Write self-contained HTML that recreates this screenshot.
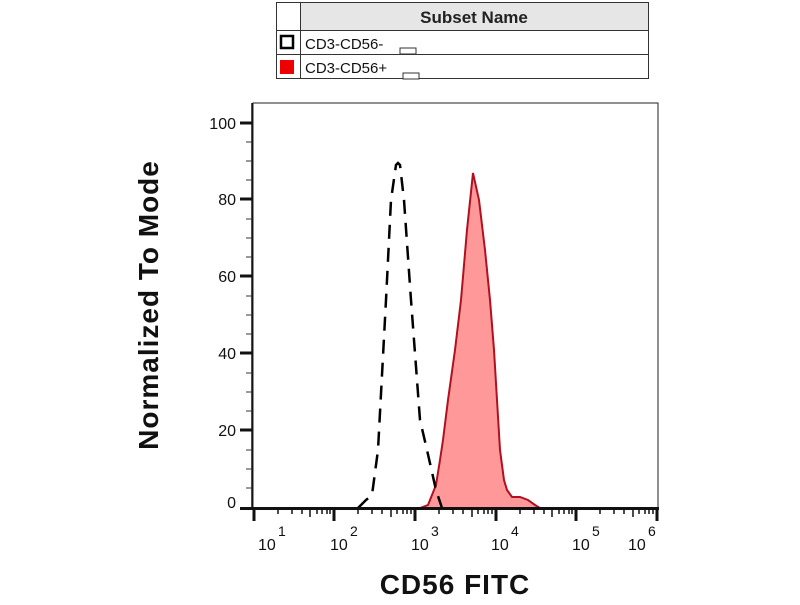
<!DOCTYPE html>
<html><head><meta charset="utf-8"><style>
body{margin:0;background:#fff;width:800px;height:600px;overflow:hidden;font-family:"Liberation Sans",sans-serif}
</style></head><body>
<svg width="800" height="600" xmlns="http://www.w3.org/2000/svg" font-family="Liberation Sans, sans-serif">
<rect x="276.5" y="2.5" width="372" height="76" fill="#fff" stroke="#333"/>
<rect x="301" y="3" width="347" height="27" fill="#e6e6e6"/>
<line x1="300.5" y1="2" x2="300.5" y2="79" stroke="#333"/>
<line x1="276" y1="30.5" x2="649" y2="30.5" stroke="#333"/>
<line x1="276" y1="54.5" x2="649" y2="54.5" stroke="#333"/>
<text x="474" y="23" font-size="17" font-weight="bold" text-anchor="middle" fill="#222">Subset Name</text>
<rect x="281" y="36" width="12" height="12" fill="#fff" stroke="#000" stroke-width="2.5"/>
<rect x="280" y="60" width="14" height="14" fill="#e00"/>
<text x="305" y="49" font-size="15" fill="#111">CD3-CD56-</text>
<rect x="400" y="48" width="16" height="6" fill="#fff" stroke="#333" stroke-width="1"/>
<text x="305" y="73" font-size="15" fill="#111">CD3-CD56+</text>
<rect x="403" y="73" width="16" height="6" fill="#fff" stroke="#333" stroke-width="1"/>
<rect x="253" y="103" width="405" height="405" fill="none" stroke="#222" stroke-width="1"/>
<path d="M255,508 L420,508 L428,505 L436,485 L440,460 L443,440 L448,400 L455,350 L461,300 L467,230 L473,173 L479,200 L485,250 L490,300 L494,350 L497,400 L500,450 L504,480 L507,490 L512,497 L520,497 L528,500 L535,505 L540,508 L656,508" fill="#f99" stroke="#b01020" stroke-width="2"/>
<path d="M358,508 L366,500 L372,495 L378,450 L386,300 L391,200 L396,165 L398,163 L400,165 L404,200 L411,300 L420,420 L427,450 L436,490 L442,508" fill="none" stroke="#000" stroke-width="2.5" stroke-dasharray="14,9"/>
<line x1="252" y1="103" x2="252" y2="510" stroke="#111" stroke-width="1.5"/>
<line x1="240" y1="508.5" x2="659" y2="508.5" stroke="#111" stroke-width="3"/>
<g stroke="#111" stroke-width="3">
<line x1="240" y1="123" x2="252" y2="123"/><line x1="240" y1="199" x2="252" y2="199"/>
<line x1="240" y1="276" x2="252" y2="276"/><line x1="240" y1="353" x2="252" y2="353"/>
<line x1="240" y1="430" x2="252" y2="430"/>
</g>
<g stroke="#333" stroke-width="1">
<line x1="246" y1="161" x2="252" y2="161"/><line x1="246" y1="238" x2="252" y2="238"/>
<line x1="246" y1="315" x2="252" y2="315"/><line x1="246" y1="392" x2="252" y2="392"/>
<line x1="246" y1="469" x2="252" y2="469"/>
<line x1="246" y1="142" x2="252" y2="142"/><line x1="246" y1="180" x2="252" y2="180"/>
<line x1="246" y1="219" x2="252" y2="219"/><line x1="246" y1="257" x2="252" y2="257"/>
<line x1="246" y1="296" x2="252" y2="296"/><line x1="246" y1="334" x2="252" y2="334"/>
<line x1="246" y1="373" x2="252" y2="373"/><line x1="246" y1="411" x2="252" y2="411"/>
<line x1="246" y1="450" x2="252" y2="450"/><line x1="246" y1="488" x2="252" y2="488"/>
</g>
<g font-size="16" fill="#111" text-anchor="end">
<text x="236" y="129">100</text><text x="236" y="205">80</text><text x="236" y="282">60</text>
<text x="236" y="359">40</text><text x="236" y="436">20</text><text x="236" y="508">0</text>
</g>
<g stroke="#111" stroke-width="3">
<line x1="254" y1="508" x2="254" y2="521"/><line x1="334" y1="508" x2="334" y2="521"/>
<line x1="415" y1="508" x2="415" y2="521"/><line x1="496" y1="508" x2="496" y2="521"/>
<line x1="576" y1="508" x2="576" y2="521"/><line x1="657" y1="508" x2="657" y2="521"/>
</g>
<g stroke="#111" stroke-width="1.5">
<line x1="278" y1="508" x2="278" y2="514"/><line x1="292" y1="508" x2="292" y2="514"/><line x1="302" y1="508" x2="302" y2="514"/><line x1="310" y1="508" x2="310" y2="517"/><line x1="317" y1="508" x2="317" y2="514"/><line x1="322" y1="508" x2="322" y2="514"/><line x1="327" y1="508" x2="327" y2="514"/><line x1="330" y1="508" x2="330" y2="514"/>
<line x1="358" y1="508" x2="358" y2="514"/><line x1="372" y1="508" x2="372" y2="514"/><line x1="382" y1="508" x2="382" y2="514"/><line x1="391" y1="508" x2="391" y2="517"/><line x1="397" y1="508" x2="397" y2="514"/><line x1="403" y1="508" x2="403" y2="514"/><line x1="407" y1="508" x2="407" y2="514"/><line x1="411" y1="508" x2="411" y2="514"/>
<line x1="439" y1="508" x2="439" y2="514"/><line x1="453" y1="508" x2="453" y2="514"/><line x1="463" y1="508" x2="463" y2="514"/><line x1="472" y1="508" x2="472" y2="517"/><line x1="478" y1="508" x2="478" y2="514"/><line x1="484" y1="508" x2="484" y2="514"/><line x1="488" y1="508" x2="488" y2="514"/><line x1="492" y1="508" x2="492" y2="514"/>
<line x1="520" y1="508" x2="520" y2="514"/><line x1="534" y1="508" x2="534" y2="514"/><line x1="544" y1="508" x2="544" y2="514"/><line x1="552" y1="508" x2="552" y2="517"/><line x1="559" y1="508" x2="559" y2="514"/><line x1="564" y1="508" x2="564" y2="514"/><line x1="569" y1="508" x2="569" y2="514"/><line x1="572" y1="508" x2="572" y2="514"/>
<line x1="600" y1="508" x2="600" y2="514"/><line x1="614" y1="508" x2="614" y2="514"/><line x1="624" y1="508" x2="624" y2="514"/><line x1="633" y1="508" x2="633" y2="517"/><line x1="639" y1="508" x2="639" y2="514"/><line x1="645" y1="508" x2="645" y2="514"/><line x1="649" y1="508" x2="649" y2="514"/><line x1="653" y1="508" x2="653" y2="514"/>
</g>
<g font-size="16" fill="#111">
<text x="258" y="550">10</text><text x="278" y="536" font-size="14">1</text>
<text x="330" y="550">10</text><text x="350" y="536" font-size="14">2</text>
<text x="411" y="550">10</text><text x="431" y="536" font-size="14">3</text>
<text x="491" y="550">10</text><text x="511" y="536" font-size="14">4</text>
<text x="572" y="550">10</text><text x="592" y="536" font-size="14">5</text>
<text x="628" y="550">10</text><text x="648" y="536" font-size="14">6</text>
</g>
<text x="455" y="594" font-size="28" font-weight="bold" text-anchor="middle" fill="#111" letter-spacing="1">CD56 FITC</text>
<text transform="translate(158,305) rotate(-90)" font-size="28" font-weight="bold" text-anchor="middle" fill="#111" letter-spacing="1">Normalized To Mode</text>
</svg>
</body></html>
